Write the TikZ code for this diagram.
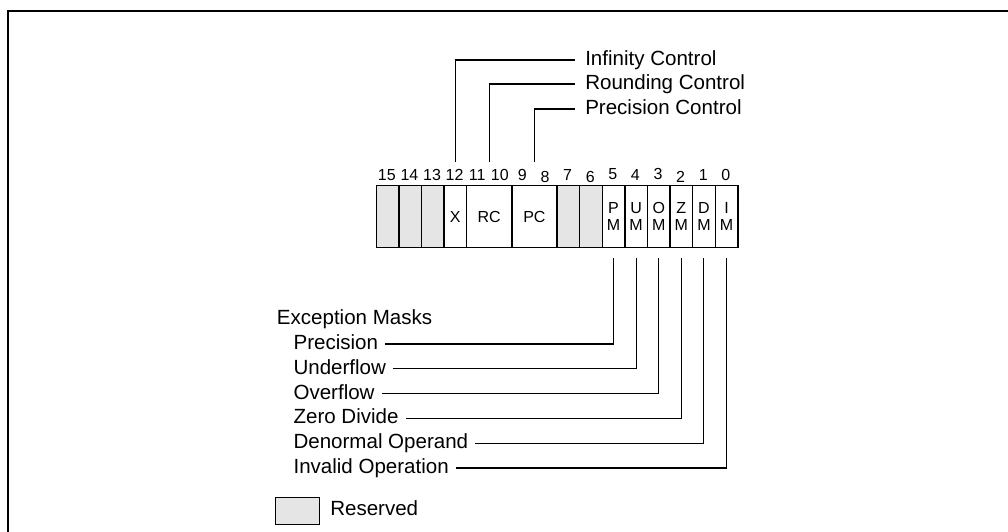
\documentclass[tikz,border=0pt]{standalone}
\usepackage{fontspec}
\setmainfont{Liberation Sans}
\begin{document}
\begin{tikzpicture}[x=0.75pt,y=-0.75pt,
  cell/.style={draw, line width=1.1pt, minimum width=16.95pt, minimum height=46.5pt,
    inner sep=0pt, anchor=north west, align=center,
    font=\fontsize{12}{13}\selectfont},
  rsv/.style={cell, fill=black!10},
  dbl/.style={cell, minimum width=33.9pt},
  bitlbl/.style={inner sep=0pt, font=\fontsize{12}{13}\selectfont},
  lbl/.style={inner sep=0pt, anchor=west, text height=8.2pt, text depth=0pt,
    font=\fontsize{15.4}{18}\selectfont},
  lead/.style={line width=0.8pt}
]
\useasboundingbox (0,0) rectangle (1008,532);
% frame
\draw[line width=1.5pt] (8,532) -- (8,11) -- (1008,11);

% register cells
\node[rsv] (b15) at (375.5,185) {};
\node[rsv] (b14) at (398.1,185) {};
\node[rsv] (b13) at (420.7,185) {};
\node[cell] (b12) at (443.3,185) {X};
\node[dbl] (rc) at (465.9,185) {RC};
\node[dbl] (pc) at (511.1,185) {PC};
\node[rsv] (b7) at (556.3,185) {};
\node[rsv] (b6) at (578.9,185) {};
\node[cell] (b5) at (601.5,185) {P\\M};
\node[cell] (b4) at (624.1,185) {U\\M};
\node[cell] (b3) at (646.7,185) {O\\M};
\node[cell] (b2) at (669.3,185) {Z\\M};
\node[cell] (b1) at (691.9,185) {D\\M};
\node[cell] (b0) at (714.5,185) {I\\M};

% bit numbers
\node[bitlbl] (l15) at (386.8,175) {15};
\node[bitlbl] (l14) at (409.4,175) {14};
\node[bitlbl] (l13) at (432.0,175) {13};
\node[bitlbl] (l12) at (454.6,175) {12};
\node[bitlbl] (l11) at (477.2,175) {11};
\node[bitlbl] (l10) at (499.8,175) {10};
\node[bitlbl] (l9) at (522.4,175) {9};
\node[bitlbl] (l8) at (545.0,177) {8};
\node[bitlbl] (l7) at (567.6,175) {7};
\node[bitlbl] (l6) at (590.2,177) {6};
\node[bitlbl] (l5) at (612.8,174) {5};
\node[bitlbl] (l4) at (635.4,175) {4};
\node[bitlbl] (l3) at (658.0,174) {3};
\node[bitlbl] (l2) at (680.6,177) {2};
\node[bitlbl] (l1) at (703.2,175) {1};
\node[bitlbl] (l0) at (725.8,175) {0};

% top labels
\node[lbl] (ic) at (585,60) {Infinity Control};
\node[lbl] (rcl) at (585,84) {Rounding Control};
\node[lbl] (pcl) at (585,109) {Precision Control};
\draw[lead] (ic.west) ++(-10,0) -| ([yshift=17.25pt]b12.north);
\draw[lead] (rcl.west) ++(-10,0) -| ([yshift=17.25pt]rc.north);
\draw[lead] (pcl.west) ++(-10,0) -| ([yshift=17.25pt]pc.north);

% exception masks
\node[lbl] (em) at (276.7,319) {Exception Masks};
\node[lbl] (pm) at (293.3,344) {Precision};
\node[lbl] (um) at (293.3,368.8) {Underflow};
\node[lbl] (om) at (293.3,393.6) {Overflow};
\node[lbl] (zm) at (293.3,418.4) {Zero Divide};
\node[lbl] (dm) at (293.3,443.2) {Denormal Operand};
\node[lbl] (im) at (293.3,468) {Invalid Operation};
\draw[lead] (pm.east) ++(7,0) -| ([yshift=-7.5pt]b5.south);
\draw[lead] (um.east) ++(7,0) -| ([yshift=-7.5pt]b4.south);
\draw[lead] (om.east) ++(7,0) -| ([yshift=-7.5pt]b3.south);
\draw[lead] (zm.east) ++(7,0) -| ([yshift=-7.5pt]b2.south);
\draw[lead] (dm.east) ++(7,0) -| ([yshift=-7.5pt]b1.south);
\draw[lead] (im.east) ++(7,0) -| ([yshift=-7.5pt]b0.south);

% legend
\node[rsv, line width=0.9pt, minimum width=33pt, minimum height=20.25pt] (leg) at (275,497) {};
\node[lbl] (resv) at (330,510.5) {Reserved};
\end{tikzpicture}
\end{document}
